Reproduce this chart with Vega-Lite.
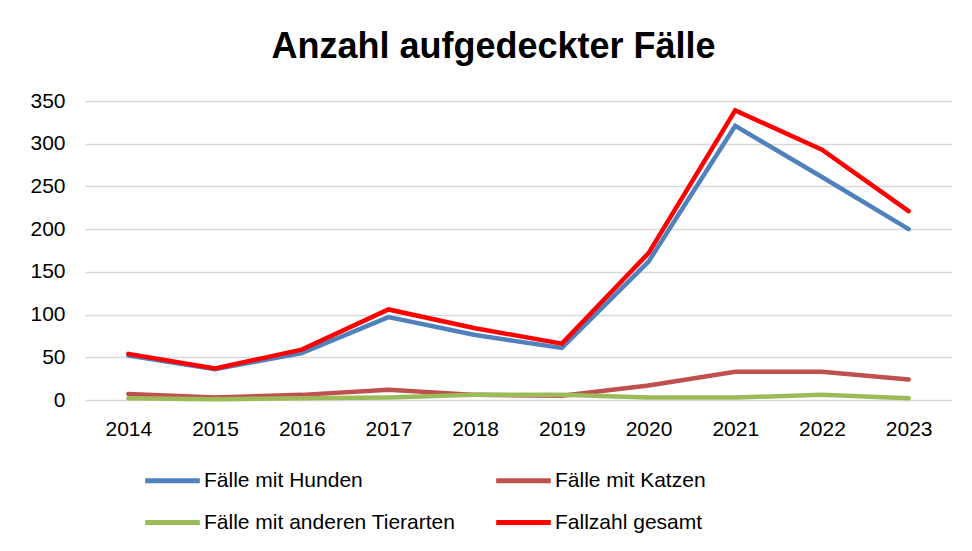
{
  "$schema": "https://vega.github.io/schema/vega-lite/v6.json",
  "width": 867,
  "height": 299,
  "padding": {"left": 29, "top": 29, "right": 0, "bottom": 0},
  "background": "white",
  "title": {
    "text": "Anzahl aufgedeckter Fälle",
    "fontSize": 36,
    "fontWeight": "bold",
    "font": "Liberation Sans, Arial, sans-serif",
    "color": "#000000",
    "anchor": "middle",
    "offset": 24,
    "dx": -25
  },
  "data": {
    "values": [
      {"Jahr": "2014", "Serie": "Fälle mit Hunden", "Anzahl": 52},
      {"Jahr": "2015", "Serie": "Fälle mit Hunden", "Anzahl": 36},
      {"Jahr": "2016", "Serie": "Fälle mit Hunden", "Anzahl": 55},
      {"Jahr": "2017", "Serie": "Fälle mit Hunden", "Anzahl": 97},
      {"Jahr": "2018", "Serie": "Fälle mit Hunden", "Anzahl": 76},
      {"Jahr": "2019", "Serie": "Fälle mit Hunden", "Anzahl": 61},
      {"Jahr": "2020", "Serie": "Fälle mit Hunden", "Anzahl": 162},
      {"Jahr": "2021", "Serie": "Fälle mit Hunden", "Anzahl": 321},
      {"Jahr": "2022", "Serie": "Fälle mit Hunden", "Anzahl": 261},
      {"Jahr": "2023", "Serie": "Fälle mit Hunden", "Anzahl": 200},
      {"Jahr": "2014", "Serie": "Fälle mit Katzen", "Anzahl": 7},
      {"Jahr": "2015", "Serie": "Fälle mit Katzen", "Anzahl": 3},
      {"Jahr": "2016", "Serie": "Fälle mit Katzen", "Anzahl": 6},
      {"Jahr": "2017", "Serie": "Fälle mit Katzen", "Anzahl": 12},
      {"Jahr": "2018", "Serie": "Fälle mit Katzen", "Anzahl": 6},
      {"Jahr": "2019", "Serie": "Fälle mit Katzen", "Anzahl": 5},
      {"Jahr": "2020", "Serie": "Fälle mit Katzen", "Anzahl": 17},
      {"Jahr": "2021", "Serie": "Fälle mit Katzen", "Anzahl": 33},
      {"Jahr": "2022", "Serie": "Fälle mit Katzen", "Anzahl": 33},
      {"Jahr": "2023", "Serie": "Fälle mit Katzen", "Anzahl": 24},
      {"Jahr": "2014", "Serie": "Fälle mit anderen Tierarten", "Anzahl": 2},
      {"Jahr": "2015", "Serie": "Fälle mit anderen Tierarten", "Anzahl": 1},
      {"Jahr": "2016", "Serie": "Fälle mit anderen Tierarten", "Anzahl": 2},
      {"Jahr": "2017", "Serie": "Fälle mit anderen Tierarten", "Anzahl": 3},
      {"Jahr": "2018", "Serie": "Fälle mit anderen Tierarten", "Anzahl": 6},
      {"Jahr": "2019", "Serie": "Fälle mit anderen Tierarten", "Anzahl": 6},
      {"Jahr": "2020", "Serie": "Fälle mit anderen Tierarten", "Anzahl": 3},
      {"Jahr": "2021", "Serie": "Fälle mit anderen Tierarten", "Anzahl": 3},
      {"Jahr": "2022", "Serie": "Fälle mit anderen Tierarten", "Anzahl": 6},
      {"Jahr": "2023", "Serie": "Fälle mit anderen Tierarten", "Anzahl": 2},
      {"Jahr": "2014", "Serie": "Fallzahl gesamt", "Anzahl": 54},
      {"Jahr": "2015", "Serie": "Fallzahl gesamt", "Anzahl": 37},
      {"Jahr": "2016", "Serie": "Fallzahl gesamt", "Anzahl": 59},
      {"Jahr": "2017", "Serie": "Fallzahl gesamt", "Anzahl": 106},
      {"Jahr": "2018", "Serie": "Fallzahl gesamt", "Anzahl": 84},
      {"Jahr": "2019", "Serie": "Fallzahl gesamt", "Anzahl": 66},
      {"Jahr": "2020", "Serie": "Fallzahl gesamt", "Anzahl": 172},
      {"Jahr": "2021", "Serie": "Fallzahl gesamt", "Anzahl": 339},
      {"Jahr": "2022", "Serie": "Fallzahl gesamt", "Anzahl": 293},
      {"Jahr": "2023", "Serie": "Fallzahl gesamt", "Anzahl": 221}
    ]
  },
  "mark": {"type": "line", "strokeWidth": 4.5, "strokeCap": "round", "strokeJoin": "miter"},
  "encoding": {
    "x": {
      "field": "Jahr",
      "type": "ordinal",
      "scale": {"type": "point", "padding": 0.5},
      "axis": {
        "title": null,
        "ticks": false,
        "domain": false,
        "labelAngle": 0,
        "labelPadding": 18,
        "labelFontSize": 21,
        "labelFont": "Liberation Sans, Arial, sans-serif",
        "labelColor": "#000000"
      }
    },
    "y": {
      "field": "Anzahl",
      "type": "quantitative",
      "scale": {"domain": [0, 350], "nice": false},
      "axis": {
        "title": null,
        "values": [0, 50, 100, 150, 200, 250, 300, 350],
        "ticks": false,
        "domain": false,
        "labelPadding": 20,
        "labelFontSize": 21,
        "labelFont": "Liberation Sans, Arial, sans-serif",
        "labelColor": "#000000",
        "gridColor": "#D9D9D9",
        "gridWidth": 1.5
      }
    },
    "color": {
      "field": "Serie",
      "type": "nominal",
      "scale": {
        "domain": ["Fälle mit Hunden", "Fälle mit Katzen", "Fälle mit anderen Tierarten", "Fallzahl gesamt"],
        "range": ["#4F81BD", "#C0504D", "#9BBB59", "#FF0000"]
      },
      "legend": {
        "title": null,
        "orient": "none",
        "legendX": 64,
        "legendY": 356,
        "direction": "horizontal",
        "columns": 2,
        "columnPadding": 30,
        "rowPadding": 8,
        "symbolType": "M-1.3,0H1.3",
        "symbolSize": 1764,
        "symbolStrokeWidth": 5,
        "labelOffset": 8,
        "labelFontSize": 21,
        "labelFont": "Liberation Sans, Arial, sans-serif",
        "labelColor": "#000000",
        "labelLimit": 400
      }
    }
  },
  "config": {
    "view": {"stroke": null}
  }
}
